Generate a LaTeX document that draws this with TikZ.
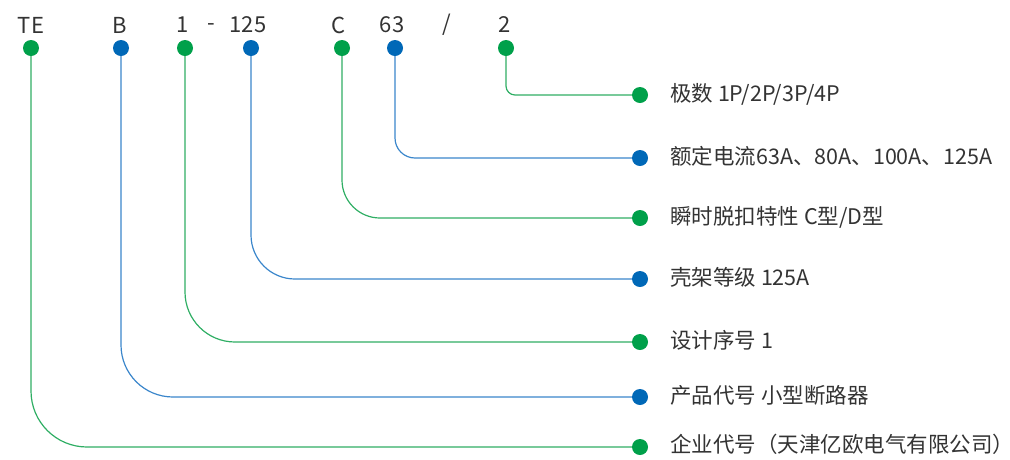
\documentclass[tikz,border=0pt]{standalone}
\usepackage{fontspec}
\setmainfont{Noto Sans CJK SC}
\definecolor{dgreen}{HTML}{00A04A}
\definecolor{dblue}{HTML}{0068B7}
\definecolor{lgreen}{HTML}{2FAE64}
\definecolor{lblue}{HTML}{3A86CB}
\definecolor{txt}{HTML}{333333}
\begin{document}
\begin{tikzpicture}[x=1pt,y=-1pt,
  gdot/.style={circle,fill=dgreen,inner sep=0pt,minimum size=16pt},
  bdot/.style={circle,fill=dblue,inner sep=0pt,minimum size=16pt},
  code/.style={text=txt,font=\fontsize{22}{26}\selectfont,inner sep=0pt,anchor=center},
  lab/.style={text=txt,font=\fontsize{21.5}{26}\selectfont,inner sep=0pt,anchor=west,text height=15pt,text depth=3pt},
  gline/.style={draw=lgreen,line width=1.2pt},
  bline/.style={draw=lblue,line width=1.2pt}]
\useasboundingbox (0,0) rectangle (1010,459);
% top code letters
\node[code] (cTE) at (31,25) {TE};
\node[code] (cB) at (120,25) {B};
\node[code] (c1) at (183,25) {1};
\node[code] (cdash) at (211,27) {-};
\node[code] (c125) at (248,25) {125};
\node[code] (cC) at (339,25) {C};
\node[code] (c63) at (392,25) {63};
\node[code] (cslash) at (447,25) {/};
\node[code] (c2) at (505,25) {2};
% top dots
\node[gdot] (tTE) at (31,48) {};
\node[bdot] (tB) at (121,48) {};
\node[gdot] (t1) at (185,48) {};
\node[bdot] (t125) at (251,48) {};
\node[gdot] (tC) at (342,48) {};
\node[bdot] (t63) at (395,48) {};
\node[gdot] (t2) at (506,48) {};
% right dots
\node[gdot] (r1) at (640,95) {};
\node[bdot] (r2) at (640,158) {};
\node[gdot] (r3) at (640,218) {};
\node[bdot] (r4) at (640,279) {};
\node[gdot] (r5) at (640,342) {};
\node[bdot] (r6) at (640,397) {};
\node[gdot] (r7) at (640,447) {};
% labels
\node[lab] (l1) at (670,95) {极数 1P/2P/3P/4P};
\node[lab] (l2) at (670,158) {额定电流63A、80A、100A、125A};
\node[lab] (l3) at (670,218) {瞬时脱扣特性 C型/D型};
\node[lab] (l4) at (670,279) {壳架等级 125A};
\node[lab] (l5) at (670,342) {设计序号 1};
\node[lab] (l6) at (670,397) {产品代号 小型断路器};
\node[lab] (l7) at (670,446) {企业代号（天津亿欧电气有限公司）};
% connectors
\draw[gline,rounded corners=9] (t2.south) |- (r1.west);
\draw[bline,rounded corners=20] (t63.south) |- (r2.west);
\draw[gline,rounded corners=38] (tC.south) |- (r3.west);
\draw[bline,rounded corners=44] (t125.south) |- (r4.west);
\draw[gline,rounded corners=50] (t1.south) |- (r5.west);
\draw[bline,rounded corners=52] (tB.south) |- (r6.west);
\draw[gline,rounded corners=56] (tTE.south) |- (r7.west);
\end{tikzpicture}
\end{document}
